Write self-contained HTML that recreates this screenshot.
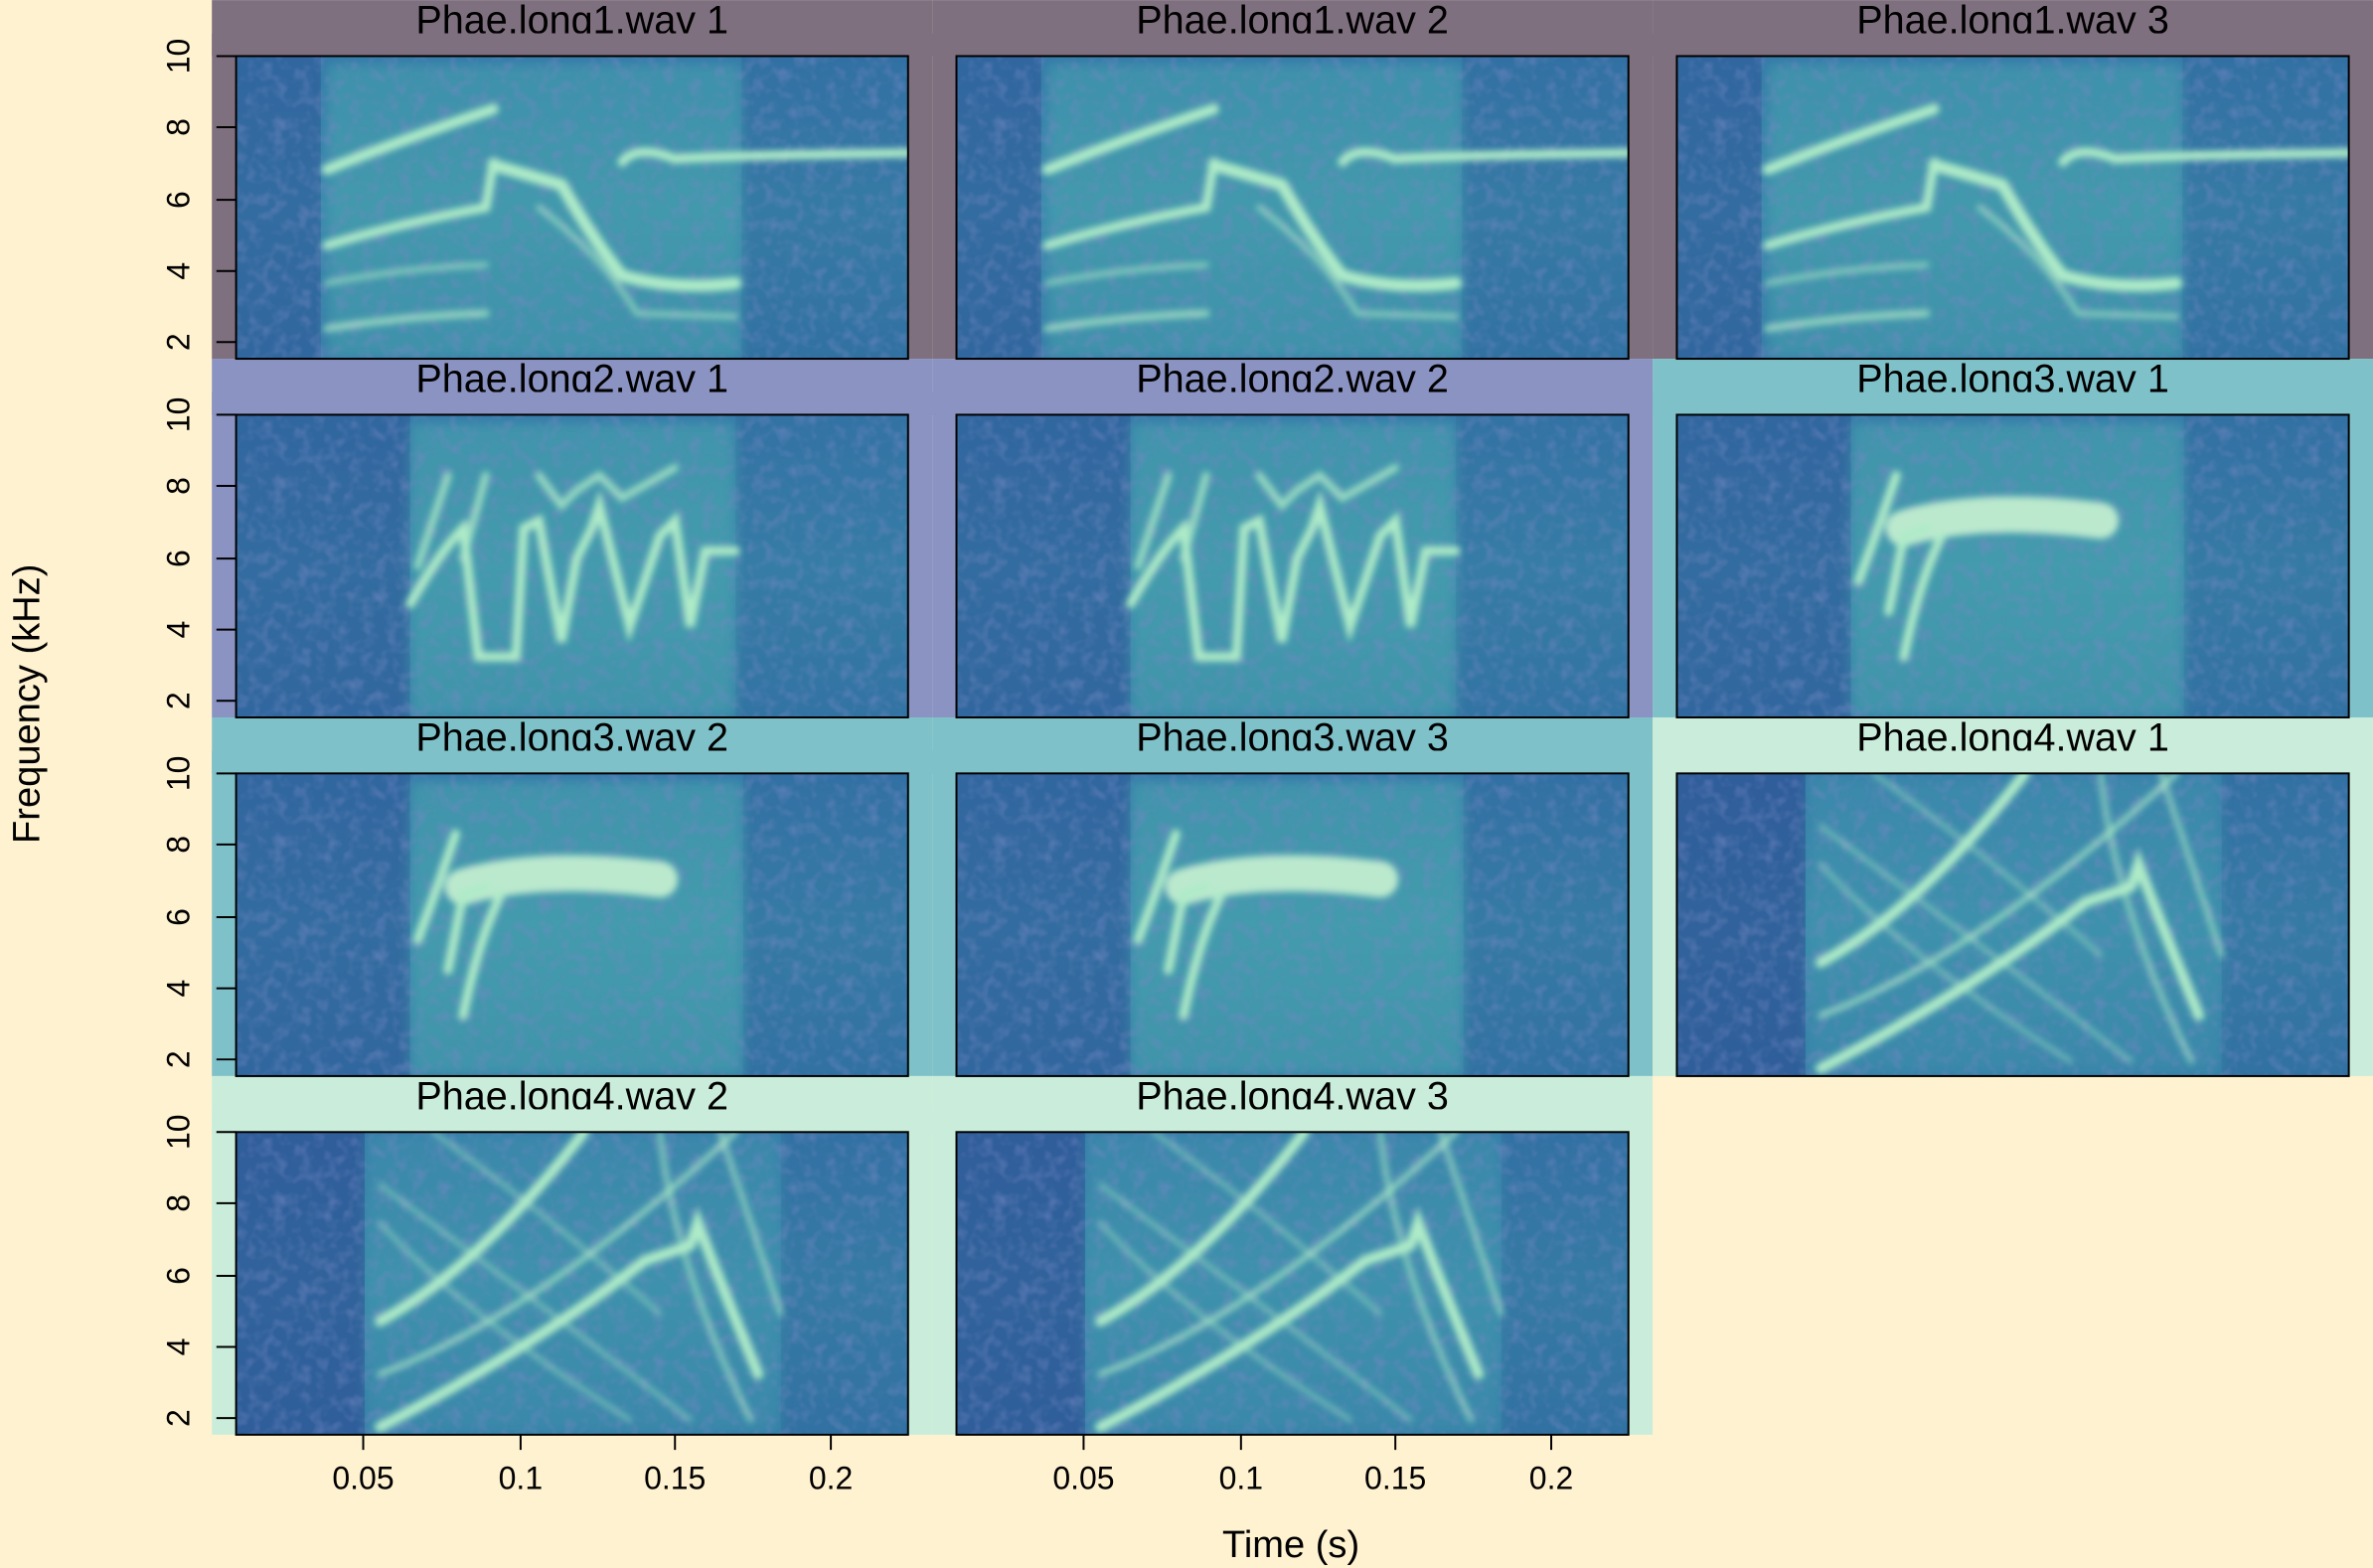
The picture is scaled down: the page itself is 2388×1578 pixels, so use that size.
<!DOCTYPE html>
<html><head><meta charset="utf-8"><style>html,body{margin:0;padding:0;background:#FFF2D0}svg{display:block}</style></head>
<body>
<svg xmlns="http://www.w3.org/2000/svg" width="2388" height="1578" viewBox="0 0 1568 1036" font-family="Liberation Sans, sans-serif">
<defs>
<filter id="bl" x="-10%" y="-10%" width="120%" height="120%"><feGaussianBlur stdDeviation="2.2"/></filter>
<filter id="bl2" x="-10%" y="-10%" width="120%" height="120%"><feGaussianBlur stdDeviation="4"/></filter>
<filter id="nz" x="0" y="0" width="100%" height="100%"><feTurbulence type="fractalNoise" baseFrequency="0.12" numOctaves="2" seed="3"/><feColorMatrix type="matrix" values="0 0 0 0 0.18  0 0 0 0 0.25  0 0 0 0 0.55  0 0 0 -2.2 1.25"/></filter>
<linearGradient id="bg" x1="0" y1="0" x2="0" y2="1"><stop offset="0" stop-color="#3579AA"/><stop offset="0.5" stop-color="#3A88AC"/><stop offset="1" stop-color="#347AA8"/></linearGradient>
<clipPath id="pc"><rect x="0" y="0" width="444" height="200"/></clipPath>
<g id="t1"><rect width="444" height="200" fill="url(#bg)"/>
<rect width="56" height="200" fill="#2F5A98" opacity="0.6"/><rect x="334" width="110" height="200" fill="#2F6298" opacity="0.35"/>
<rect x="60" y="5" width="274" height="195" fill="#4DAEAE" opacity="0.45" filter="url(#bl2)"/>
<rect width="444" height="200" filter="url(#nz)" opacity="0.5"/>
<g fill="none" stroke="#AEEBC8" stroke-linecap="round" filter="url(#bl)">
<path d="M60 75 Q110 55 170 35" stroke-width="7"/>
<path d="M60 125 Q110 110 165 100 L170 70" stroke-width="6"/>
<path d="M170 72 L215 85 Q235 120 255 145 Q290 155 330 150" stroke-width="8"/>
<path d="M60 180 Q110 172 165 170" stroke-width="5" opacity="0.7"/>
<path d="M60 150 Q110 140 165 138" stroke-width="4" opacity="0.6"/>
<path d="M255 70 Q265 58 290 68 Q310 66 444 64" stroke-width="6"/>
<path d="M200 100 Q240 130 265 170 L330 172" stroke-width="4" opacity="0.6"/>
</g></g>
<g id="t2"><rect width="444" height="200" fill="url(#bg)"/>
<rect width="115" height="200" fill="#2F5A98" opacity="0.6"/><rect x="330" width="114" height="200" fill="#2F6298" opacity="0.3"/>
<rect x="115" y="5" width="215" height="195" fill="#4DAEAE" opacity="0.5" filter="url(#bl2)"/>
<rect width="444" height="200" filter="url(#nz)" opacity="0.5"/>
<g fill="none" stroke="#AEEBC8" stroke-linecap="round" filter="url(#bl)">
<path d="M115 125 Q135 90 150 75 L160 160 L185 160 L190 75 L200 70 L215 150 L225 95 L235 75 L240 60 L260 140 L280 80 L290 70 L300 140 L310 90 L330 90" stroke-width="6"/>
<path d="M120 100 Q130 70 140 40 M150 95 L165 40 M200 40 L215 60 L225 50 L240 40 L255 55 L290 35" stroke-width="5" opacity="0.8"/>
</g></g>
<g id="t3"><rect width="444" height="200" fill="url(#bg)"/>
<rect width="115" height="200" fill="#2F5A98" opacity="0.6"/><rect x="335" width="109" height="200" fill="#2F6298" opacity="0.35"/>
<rect x="115" y="5" width="220" height="195" fill="#4DAEAE" opacity="0.5" filter="url(#bl2)"/>
<rect width="444" height="200" filter="url(#nz)" opacity="0.5"/>
<g fill="none" stroke-linecap="round" filter="url(#bl)">
<path d="M150 75 Q200 60 280 70" stroke="#C8F2D2" stroke-width="24" opacity="0.9"/>
<path d="M120 110 Q135 70 145 40 M140 130 L150 80 L165 75 M150 160 Q160 110 175 80" stroke="#AEEBC8" stroke-width="6"/>
</g></g>
<g id="t4"><rect width="444" height="200" fill="url(#bg)"/>
<rect width="85" height="200" fill="#2E5294" opacity="0.7"/><rect x="360" width="84" height="200" fill="#2F6298" opacity="0.35"/>
<rect x="85" y="0" width="275" height="200" fill="#4AA8AE" opacity="0.3" filter="url(#bl2)"/>
<rect width="444" height="200" filter="url(#nz)" opacity="0.5"/>
<g fill="none" stroke="#AEEBC8" stroke-linecap="round" filter="url(#bl)">
<path d="M95 125 Q160 90 230 0" stroke-width="7"/>
<path d="M95 195 Q200 140 270 85 L300 75 L305 60 Q320 100 345 160" stroke-width="7"/>
<path d="M95 160 Q200 120 330 0" stroke-width="4" opacity="0.7"/>
<path d="M95 60 Q150 120 260 190 M95 35 Q170 90 300 190 M130 0 Q200 50 280 120" stroke-width="3" opacity="0.5"/>
<path d="M280 0 Q290 90 340 190 M320 0 Q340 60 360 120" stroke-width="4" opacity="0.6"/>
</g></g>
</defs>
<rect width="1568" height="1036" fill="#FFF2D0"/>
<g>
<rect x="140" y="0" width="476" height="237" fill="#7F707F"/>
<rect x="616" y="0" width="476" height="237" fill="#7F707F"/>
<rect x="1092" y="0" width="476" height="237" fill="#7F707F"/>
<rect x="140" y="237" width="476" height="237" fill="#8A93C2"/>
<rect x="616" y="237" width="476" height="237" fill="#8A93C2"/>
<rect x="1092" y="237" width="476" height="237" fill="#7FC1C9"/>
<rect x="140" y="474" width="476" height="237" fill="#7FC1C9"/>
<rect x="616" y="474" width="476" height="237" fill="#7FC1C9"/>
<rect x="1092" y="474" width="476" height="237" fill="#C9EDDA"/>
<rect x="140" y="711" width="476" height="237" fill="#C9EDDA"/>
<rect x="616" y="711" width="476" height="237" fill="#C9EDDA"/>
</g>
<g font-size="26" text-anchor="middle" fill="#000">
<text x="378" y="22">Phae.long1.wav 1</text><text x="854" y="22">Phae.long1.wav 2</text><text x="1330" y="22">Phae.long1.wav 3</text>
<text x="378" y="259">Phae.long2.wav 1</text><text x="854" y="259">Phae.long2.wav 2</text><text x="1330" y="259">Phae.long3.wav 1</text>
<text x="378" y="496">Phae.long3.wav 2</text><text x="854" y="496">Phae.long3.wav 3</text><text x="1330" y="496">Phae.long4.wav 1</text>
<text x="378" y="733">Phae.long4.wav 2</text><text x="854" y="733">Phae.long4.wav 3</text>
</g>
<g>
<rect x="140" y="22" width="1428" height="15" fill="#7F707F"/>
<rect x="140" y="259" width="952" height="15" fill="#8A93C2"/><rect x="1092" y="259" width="476" height="15" fill="#7FC1C9"/>
<rect x="140" y="496" width="952" height="15" fill="#7FC1C9"/><rect x="1092" y="496" width="476" height="15" fill="#C9EDDA"/>
<rect x="140" y="733" width="952" height="15" fill="#C9EDDA"/>
</g>
<g clip-path="url(#pc)" transform="translate(156,37)"><use href="#t1"/></g>
<g clip-path="url(#pc)" transform="translate(632,37)"><use href="#t1"/></g>
<g clip-path="url(#pc)" transform="translate(1108,37)"><use href="#t1"/></g>
<g clip-path="url(#pc)" transform="translate(156,274)"><use href="#t2"/></g>
<g clip-path="url(#pc)" transform="translate(632,274)"><use href="#t2"/></g>
<g clip-path="url(#pc)" transform="translate(1108,274)"><use href="#t3"/></g>
<g clip-path="url(#pc)" transform="translate(156,511)"><use href="#t3"/></g>
<g clip-path="url(#pc)" transform="translate(632,511)"><use href="#t3"/></g>
<g clip-path="url(#pc)" transform="translate(1108,511)"><use href="#t4"/></g>
<g clip-path="url(#pc)" transform="translate(156,748)"><use href="#t4"/></g>
<g clip-path="url(#pc)" transform="translate(632,748)"><use href="#t4"/></g>
<g fill="none" stroke="#000" stroke-width="1.3">
<rect x="156" y="37" width="444" height="200"/><rect x="632" y="37" width="444" height="200"/><rect x="1108" y="37" width="444" height="200"/>
<rect x="156" y="274" width="444" height="200"/><rect x="632" y="274" width="444" height="200"/><rect x="1108" y="274" width="444" height="200"/>
<rect x="156" y="511" width="444" height="200"/><rect x="632" y="511" width="444" height="200"/><rect x="1108" y="511" width="444" height="200"/>
<rect x="156" y="748" width="444" height="200"/><rect x="632" y="748" width="444" height="200"/>
</g>
<g stroke="#000" stroke-width="1.3">
<path d="M143 37H156M143 84H156M143 132H156M143 179H156M143 226H156"/>
<path d="M143 274H156M143 321H156M143 369H156M143 416H156M143 463H156"/>
<path d="M143 511H156M143 558H156M143 606H156M143 653H156M143 700H156"/>
<path d="M143 748H156M143 795H156M143 843H156M143 890H156M143 937H156"/>
<path d="M240 948V958M344 948V958M446 948V958M549 948V958M716 948V958M820 948V958M922 948V958M1025 948V958"/>
</g>
<g font-size="21" text-anchor="middle">
<text transform="translate(125,37) rotate(-90)">10</text><text transform="translate(125,84) rotate(-90)">8</text><text transform="translate(125,132) rotate(-90)">6</text><text transform="translate(125,179) rotate(-90)">4</text><text transform="translate(125,226) rotate(-90)">2</text>
<text transform="translate(125,274) rotate(-90)">10</text><text transform="translate(125,321) rotate(-90)">8</text><text transform="translate(125,369) rotate(-90)">6</text><text transform="translate(125,416) rotate(-90)">4</text><text transform="translate(125,463) rotate(-90)">2</text>
<text transform="translate(125,511) rotate(-90)">10</text><text transform="translate(125,558) rotate(-90)">8</text><text transform="translate(125,606) rotate(-90)">6</text><text transform="translate(125,653) rotate(-90)">4</text><text transform="translate(125,700) rotate(-90)">2</text>
<text transform="translate(125,748) rotate(-90)">10</text><text transform="translate(125,795) rotate(-90)">8</text><text transform="translate(125,843) rotate(-90)">6</text><text transform="translate(125,890) rotate(-90)">4</text><text transform="translate(125,937) rotate(-90)">2</text>
<text x="240" y="984">0.05</text><text x="344" y="984">0.1</text><text x="446" y="984">0.15</text><text x="549" y="984">0.2</text>
<text x="716" y="984">0.05</text><text x="820" y="984">0.1</text><text x="922" y="984">0.15</text><text x="1025" y="984">0.2</text>
</g>
<text x="853" y="1029" font-size="25" text-anchor="middle">Time (s)</text>
<text transform="translate(26,465) rotate(-90)" font-size="25" text-anchor="middle">Frequency (kHz)</text>
</svg>
</body></html>
